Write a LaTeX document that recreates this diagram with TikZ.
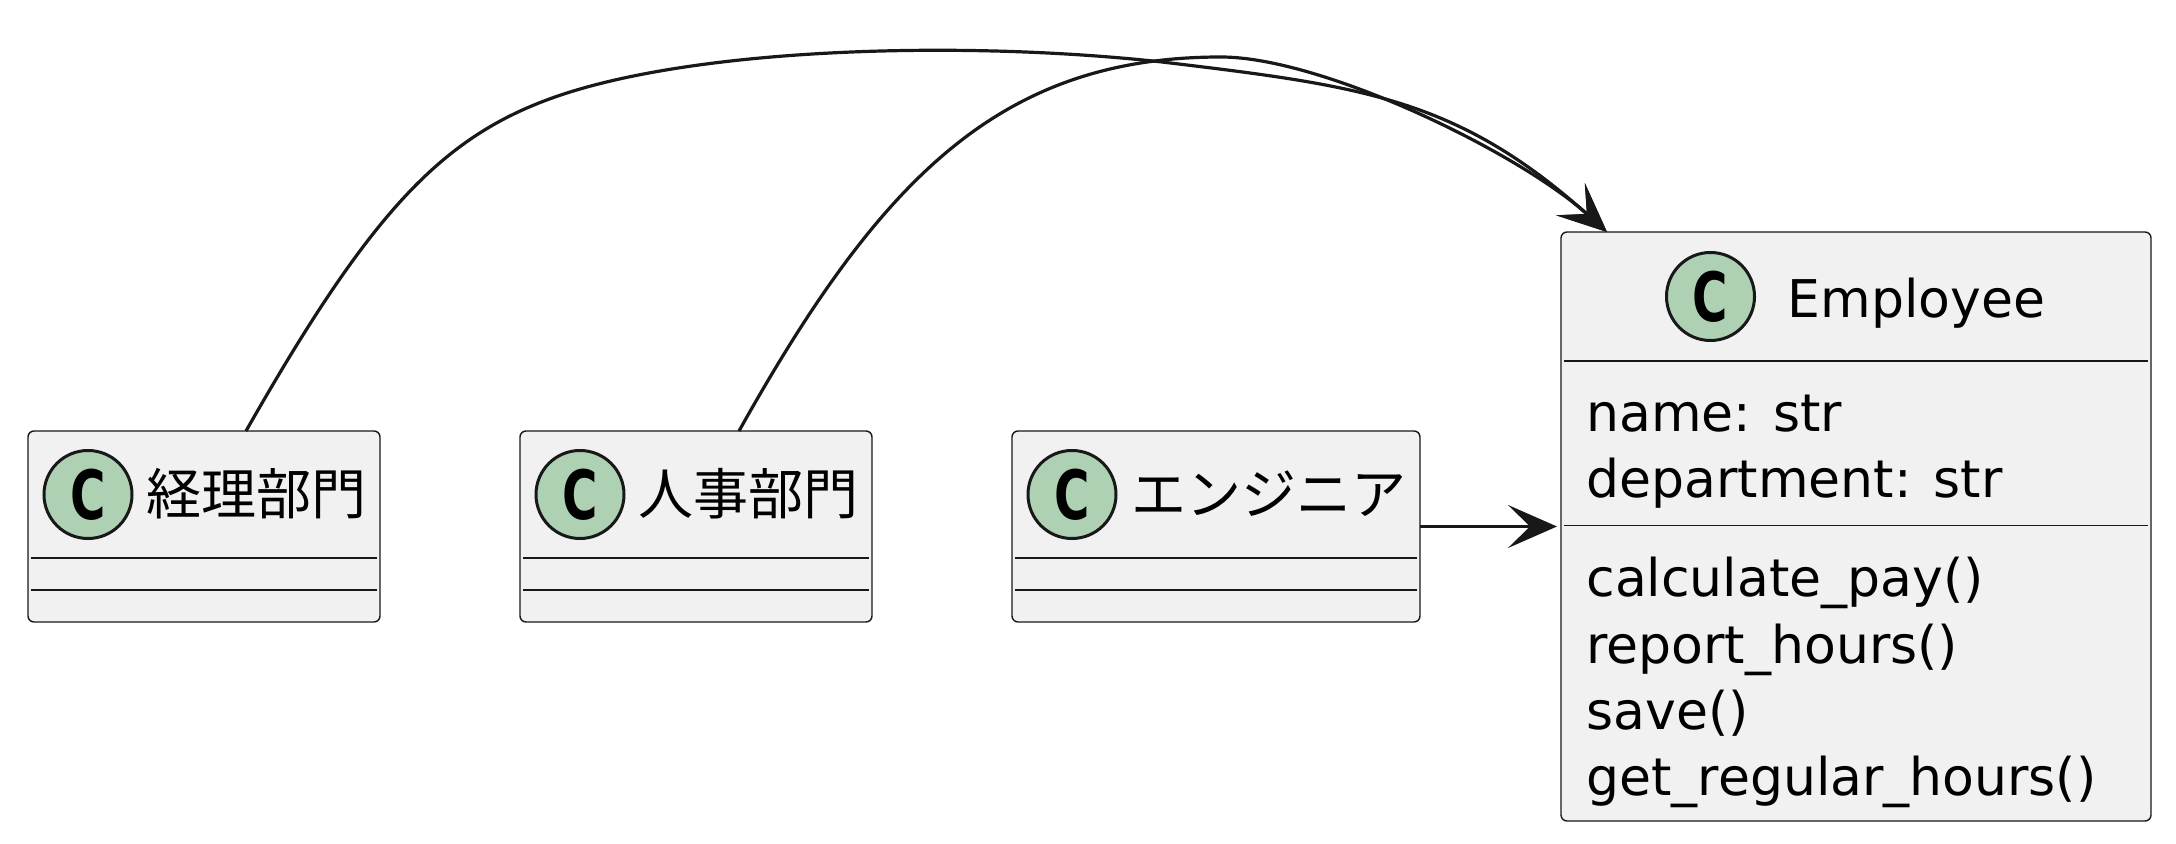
\documentclass[tikz,border=0pt]{standalone}
\usepackage{fontspec}
\setmainfont{DejaVu Sans}
\newfontfamily\cjk{Noto Sans CJK JP}
\usetikzlibrary{arrows.meta,calc}
\definecolor{boxfill}{HTML}{F1F1F1}
\definecolor{boxline}{HTML}{181818}
\definecolor{badgefill}{HTML}{ADD1B2}
\newcommand{\Cmark}{\scalebox{0.71}[1]{\fontsize{34}{34}\selectfont\bfseries C}}
\begin{document}
\begin{tikzpicture}[x=0.5pt,y=-0.5pt,
  classbox/.style={draw=boxline, fill=boxfill, line width=0.7pt, rounded corners=3pt, inner sep=0pt, outer sep=0pt},
  badge/.style={circle, draw=boxline, fill=badgefill, line width=1.5pt, minimum size=44pt, inner sep=0pt, outer sep=0pt},
  sepline/.style={draw=boxline, line width=0.7pt},
  cjkname/.style={anchor=west, inner sep=0pt, font=\cjk\fontsize{27.5}{30}\selectfont},
  member/.style={anchor=base west, inner sep=0pt, font=\fontsize{26}{30}\selectfont},
  edge/.style={draw=boxline, line width=1.6pt, -{Stealth[length=24.5pt,width=21.5pt,inset=11pt]}}
]
\useasboundingbox (0,0) rectangle (2176,844);

% small class boxes
\node[classbox, minimum width=176pt, minimum height=95.5pt] (b1) at (204,526.5) {};
\node[classbox, minimum width=176pt, minimum height=95.5pt] (b2) at (696,526.5) {};
\node[classbox, minimum width=204pt, minimum height=95.5pt] (b3) at (1216,526.5) {};
\foreach \b in {b1,b2,b3}{
  \draw[sepline] ($(\b.west |- 0,558)+(3,0)$) -- ($(\b.east |- 0,558)+(-3,0)$);
  \draw[sepline] ($(\b.west |- 0,590)+(3,0)$) -- ($(\b.east |- 0,590)+(-3,0)$);
}
\node[badge] (c1) at (88,494.5) {\Cmark};
\node[badge] (c2) at (580,494.5) {\Cmark};
\node[badge] (c3) at (1072,494.5) {\Cmark};
\node[cjkname] (n1) at (146,494) {経理部門};
\node[cjkname] (n2) at (638,494) {人事部門};
\node[cjkname] (n3) at (1131,494) {エンジニア};

% Employee
\node[classbox, minimum width=295pt, minimum height=294.5pt] (emp) at (1856,526.5) {};
\draw[sepline] ($(emp.west |- 0,361)+(3,0)$) -- ($(emp.east |- 0,361)+(-3,0)$);
\draw[sepline] ($(emp.west |- 0,525.5)+(3,0)$) -- ($(emp.east |- 0,525.5)+(-3,0)$);
\node[badge] (ce) at (1710.5,296.5) {\Cmark};
\node[member] (et) at (1787.5,318) {Employee};
\node[member] (a1) at (1586,432) {name: str};
\node[member] (a2) at (1586,498) {department: str};
\node[member] (m1) at (1586,597) {calculate\_pay()};
\node[member] (m2) at (1586,663) {report\_hours()};
\node[member] (m3) at (1586,729) {save()};
\node[member] (m4) at (1586,795) {get\_regular\_hours()};

% edges
\draw[edge] ($(b1.north)+(42,0)$) .. controls (370,213) and (441,137) .. (555,97)
  .. controls (696,47.5) and (962,40) .. (1162,62)
  .. controls (1362,86) and (1457,98) .. ($(emp.north west)+(46,0)$);
\draw[edge] ($(b2.north)+(43,0)$) .. controls (881,177) and (1001,57) .. (1221,57)
  .. controls (1321,57) and (1517,151) .. ($(emp.north west)+(46,0)$);
\draw[edge, shorten >=2pt] (b3.east) -- (emp.west);
\end{tikzpicture}
\end{document}
